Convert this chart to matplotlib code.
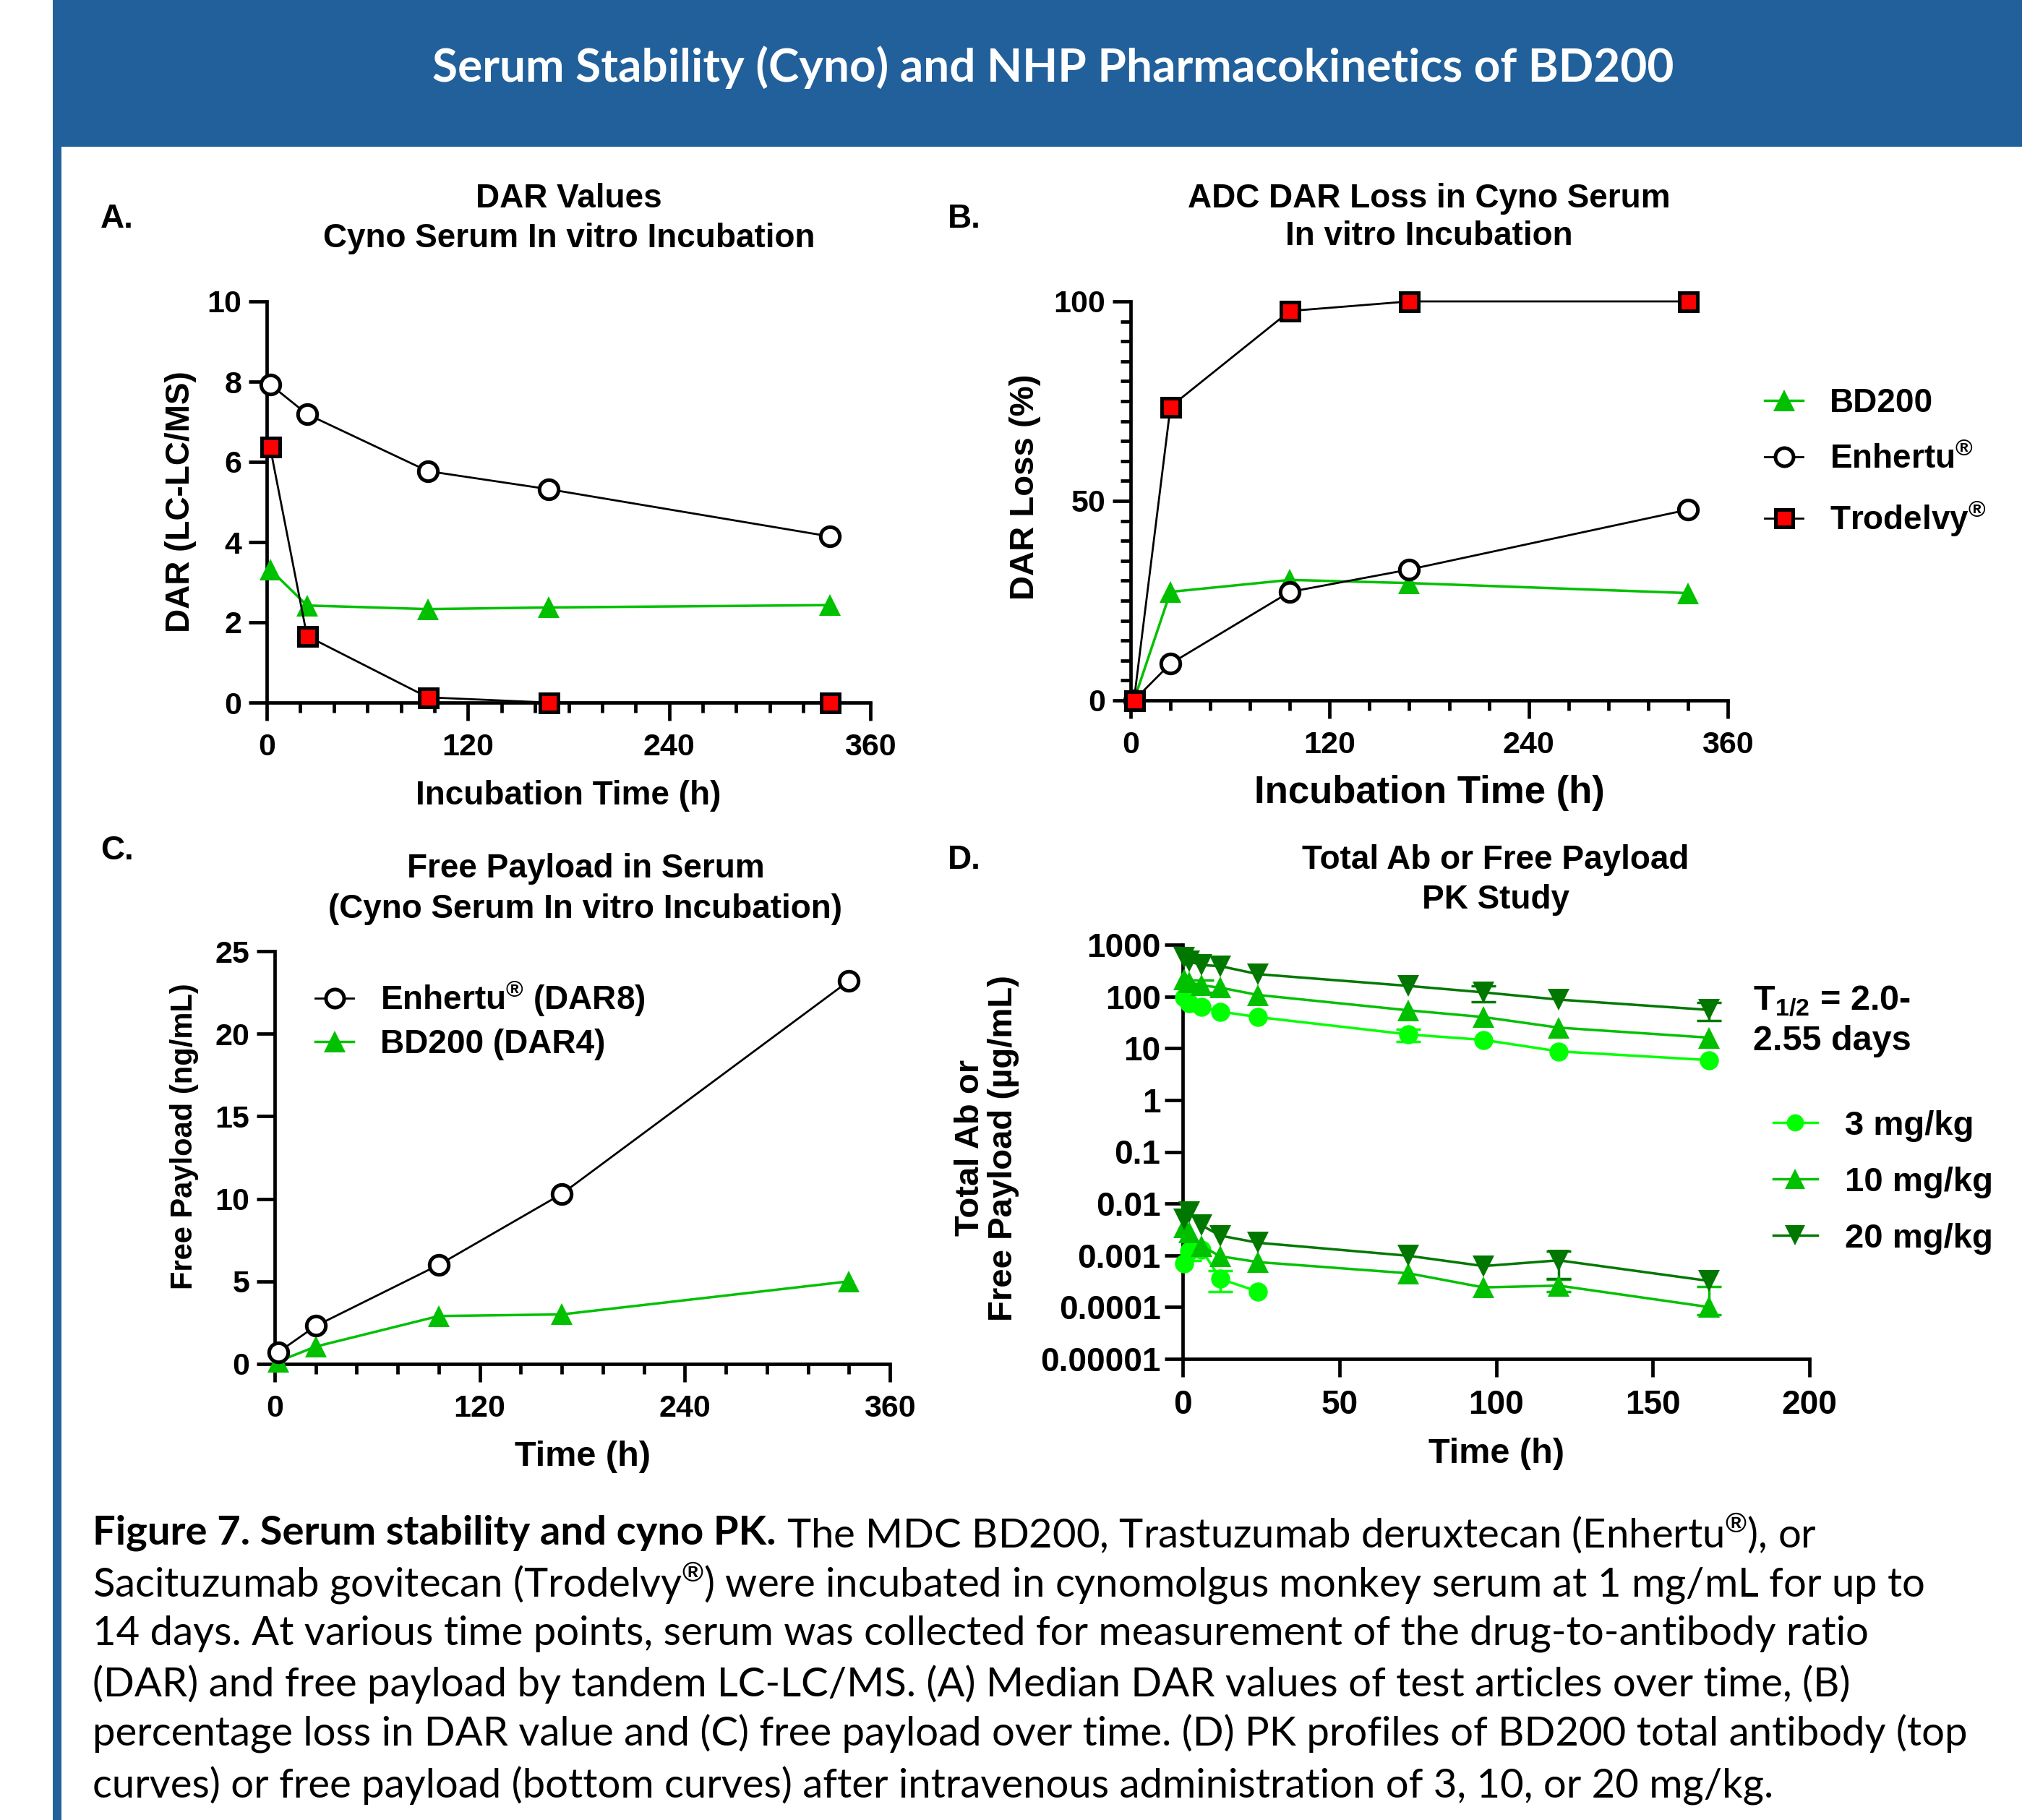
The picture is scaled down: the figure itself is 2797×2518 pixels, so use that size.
import numpy as np
import matplotlib
matplotlib.use("Agg")
import matplotlib.pyplot as plt
from matplotlib.patches import Rectangle
from matplotlib.ticker import MultipleLocator, FixedLocator, NullLocator

W, H = 2797, 2518
DPI = 100

# ---- data ----
hours_dar = [2, 24, 96, 168, 336]
dar_enhertu = [7.93, 7.19, 5.77, 5.32, 4.14]
dar_bd200 = [3.32, 2.42, 2.33, 2.37, 2.43]
dar_trodelvy = [6.37, 1.66, 0.13, 0.0, 0.0]

hours_loss = [2, 24, 96, 168, 336]
loss_bd200 = [0.0, 27.2, 30.2, 29.4, 26.9]
loss_enhertu = [0.0, 9.2, 27.2, 32.8, 47.8]
loss_trodelvy = [0.0, 73.6, 97.6, 100.0, 100.0]

hours_payload = [2, 24, 96, 168, 336]
payload_enhertu = [0.7, 2.3, 6.0, 10.3, 23.2]
payload_bd200 = [0.15, 1.05, 2.9, 3.0, 5.0]

pk_hours = [0.5, 2, 6, 12, 24, 72, 96, 120, 168]
ab_3 = [97, 74, 63, 51, 40, 18.5, 14.5, 8.7, 5.9]
ab_10 = [215, 190, 164, 148, 107, 54, 40, 25, 16]
ab_20 = [560, 475, 405, 385, 270, 160, 120, 87, 55]
# (lower, upper) error bar lengths, zero where no bar shows
ab_3_err = ([0, 0, 0, 0, 0, 5, 0, 0, 0], [0, 0, 0, 0, 0, 5, 0, 0, 0])
ab_10_err = ([0, 0, 44, 0, 0, 0, 0, 0, 0], [0, 0, 44, 0, 0, 0, 0, 0, 0])
ab_20_err = ([0, 0, 0, 0, 0, 0, 40, 0, 21], [0, 0, 0, 0, 0, 0, 40, 0, 21])

payload_hours_3 = [0.5, 2, 6, 12, 24]
pl_3 = [0.0007, 0.0012, 0.0013, 0.00035, 0.0002]
pl_3_err = ([0, 0.0004, 0, 0.00015, 0], [0, 0.0004, 0, 0.00015, 0])
pl_10 = [0.0035, 0.0028, 0.0015, 0.00096, 0.00074, 0.00045, 0.00024, 0.00026, 0.0001]
pl_10_err = ([0, 0, 0, 0, 0, 0, 0, 0.00006, 0.00003],
             [0, 0, 0, 0, 0, 0, 0, 0.00008, 0.00015])
pl_20 = [0.005, 0.0068, 0.0038, 0.0024, 0.00175, 0.00098, 0.00062, 0.0008, 0.00032]
pl_20_err = ([0, 0, 0, 0, 0, 0, 0, 0.00045, 0], [0, 0, 0, 0, 0, 0, 0, 0.0004, 0])

pk_yticks = [1e-5, 1e-4, 1e-3, 1e-2, 1e-1, 1, 10, 100, 1000]
pk_yticklabels = ["0.00001", "0.0001", "0.001", "0.01", "0.1", "1", "10", "100", "1000"]

CAPTION_BOLD = "Figure 7. Serum stability and cyno PK."
CAPTION_LINES = [
    r"The MDC BD200, Trastuzumab deruxtecan (Enhertu$^{\circledR}$), or",
    r"Sacituzumab govitecan (Trodelvy$^{\circledR}$) were incubated in cynomolgus monkey serum at 1 mg/mL for up to",
    "14 days. At various time points, serum was collected for measurement of the drug-to-antibody ratio",
    "(DAR) and free payload by tandem LC-LC/MS. (A) Median DAR values of test articles over time, (B)",
    "percentage loss in DAR value and (C) free payload over time. (D) PK profiles of BD200 total antibody (top",
    "curves) or free payload (bottom curves) after intravenous administration of 3, 10, or 20 mg/kg.",
]

# ---- style ----
plt.rcParams["font.family"] = ["Liberation Sans", "DejaVu Sans"]
plt.rcParams["font.weight"] = "bold"
plt.rcParams["mathtext.fontset"] = "custom"
plt.rcParams["mathtext.rm"] = "Liberation Sans"
plt.rcParams["mathtext.bf"] = "Liberation Sans:bold"

BLUE = "#21609b"
GREEN = "#00c000"
RED = "#ff0000"
G3, G10, G20 = "#00ff00", "#00c000", "#007800"
LW = 2.0
MS = 19
TITLE_FS = 33
TICK_FS = 31


def fx(x):
    return x / W


def fy(y):
    return 1 - y / H


def box(left, top, right, bottom):
    return [fx(left), fy(bottom), (right - left) / W, (bottom - top) / H]


def style_axes(ax, tick_size):
    for s in ("top", "right"):
        ax.spines[s].set_visible(False)
    for s in ("left", "bottom"):
        ax.spines[s].set_linewidth(3.4)
    ax.tick_params(which="major", direction="out", length=18, width=3.4,
                   labelsize=tick_size, pad=7)
    ax.tick_params(which="minor", direction="out", length=10, width=3.4)
    ax.tick_params(axis="x", which="major", pad=12)
    for lab in ax.get_xticklabels() + ax.get_yticklabels():
        lab.set_fontweight("bold")


def panel_title(x, y1, y2, l1, l2, letter, lx, ly):
    fig.text(fx(x), fy(y1), l1, ha="center", va="center", fontsize=TITLE_FS, fontweight="bold")
    fig.text(fx(x), fy(y2), l2, ha="center", va="center", fontsize=TITLE_FS, fontweight="bold")
    fig.text(fx(lx), fy(ly), letter, ha="left", va="center", fontsize=TITLE_FS, fontweight="bold")


def enhertu(ax, x, y, **kw):
    ax.plot(x, y, color="black", lw=LW, marker="o", ms=MS, mfc="white", mec="black",
            mew=3.6, clip_on=False, zorder=5, **kw)


def trodelvy(ax, x, y, **kw):
    ax.plot(x, y, color="black", lw=LW, marker="s", ms=MS - 1, mfc=RED, mec="black",
            mew=3.6, clip_on=False, zorder=6, **kw)


def bd200(ax, x, y, **kw):
    ax.plot(x, y, color=GREEN, lw=LW + 0.5, marker="^", ms=MS + 3, mfc=GREEN, mec=GREEN,
            mew=0, clip_on=False, zorder=4, **kw)


fig = plt.figure(figsize=(W / DPI, H / DPI), dpi=DPI)

# header band and left rule
fig.add_artist(Rectangle((fx(73), fy(203)), 1 - fx(73), 203 / H, transform=fig.transFigure,
                         facecolor=BLUE, edgecolor="none"))
fig.add_artist(Rectangle((fx(73), 0), 12 / W, fy(203), transform=fig.transFigure,
                         facecolor=BLUE, edgecolor="none"))
fig.text(fx(1457), fy(93), "Serum Stability (Cyno) and NHP Pharmacokinetics of BD200",
         ha="center", va="center", color="white", fontsize=46, fontweight="bold", family="Lato")

# ---- panel A ----
axA = fig.add_axes(box(369, 417, 1204, 972))
enhertu(axA, hours_dar, dar_enhertu)
bd200(axA, hours_dar, dar_bd200)
trodelvy(axA, hours_dar, dar_trodelvy)
axA.set_xlim(0, 360)
axA.set_ylim(0, 10)
axA.xaxis.set_major_locator(MultipleLocator(120))
axA.xaxis.set_minor_locator(MultipleLocator(20))
axA.yaxis.set_major_locator(MultipleLocator(2))
style_axes(axA, TICK_FS)
axA.set_xlabel("Incubation Time (h)", fontsize=33, fontweight="bold", va="center")
axA.xaxis.set_label_coords(0.5, (972 - 1101) / 555)
axA.set_ylabel("DAR (LC-LC/MS)", fontsize=33, fontweight="bold", va="center")
axA.yaxis.set_label_coords((250 - 369) / 835, (972 - 694) / 555)
panel_title(787, 275, 330, "DAR Values", "Cyno Serum In vitro Incubation", "A.", 139, 303)

# ---- panel B ----
axB = fig.add_axes(box(1564, 417, 2390, 969))
bd200(axB, hours_loss, loss_bd200, label="BD200")
enhertu(axB, hours_loss, loss_enhertu, label=r"Enhertu$^{\circledR}$")
trodelvy(axB, hours_loss, loss_trodelvy, label=r"Trodelvy$^{\circledR}$")
axB.set_xlim(0, 360)
axB.set_ylim(0, 100)
axB.xaxis.set_major_locator(MultipleLocator(120))
axB.xaxis.set_minor_locator(MultipleLocator(24))
axB.yaxis.set_major_locator(MultipleLocator(50))
axB.yaxis.set_minor_locator(MultipleLocator(5))
style_axes(axB, TICK_FS)
axB.set_xlabel("Incubation Time (h)", fontsize=38, fontweight="bold", va="center")
axB.xaxis.set_label_coords(0.5, (969 - 1097) / 552)
axB.set_ylabel("DAR Loss (%)", fontsize=34, fontweight="bold", va="center")
axB.yaxis.set_label_coords((1418 - 1564) / 826, (969 - 674) / 552)
axB.legend(loc="upper left", bbox_to_anchor=(fx(2400), fy(495)), bbox_transform=fig.transFigure,
           frameon=False, fontsize=33, handlelength=1.15, handletextpad=0.8, labelspacing=0.72,
           markerscale=0.95)
panel_title(1977, 275, 327, "ADC DAR Loss in Cyno Serum", "In vitro Incubation", "B.", 1311, 303)

# ---- panel C ----
axC = fig.add_axes(box(380, 1316, 1231, 1887))
enhertu(axC, hours_payload, payload_enhertu, label=r"Enhertu$^{\circledR}$ (DAR8)")
bd200(axC, hours_payload, payload_bd200, label="BD200 (DAR4)")
axC.set_xlim(0, 360)
axC.set_ylim(0, 25)
axC.xaxis.set_major_locator(MultipleLocator(120))
axC.xaxis.set_minor_locator(MultipleLocator(24))
axC.yaxis.set_major_locator(MultipleLocator(5))
style_axes(axC, TICK_FS)
axC.set_xlabel("Time (h)", fontsize=35, fontweight="bold", va="center")
axC.xaxis.set_label_coords(0.5, (1887 - 2016) / 571)
axC.set_ylabel("Free Payload (ng/mL)", fontsize=30, fontweight="bold", va="center")
axC.yaxis.set_label_coords((255 - 380) / 851, (1887 - 1572) / 571)
axC.legend(loc="upper left", bbox_to_anchor=(fx(395), fy(1313)), bbox_transform=fig.transFigure,
           frameon=False, fontsize=33, handlelength=1.15, handletextpad=0.8, labelspacing=0.3,
           markerscale=0.95)
panel_title(810, 1202, 1258, "Free Payload in Serum", "(Cyno Serum In vitro Incubation)", "C.", 139, 1177)

# ---- panel D ----
axD = fig.add_axes(box(1636, 1307, 2503, 1880))
series = [
    (pk_hours, ab_3, ab_3_err, G3, "o", "3 mg/kg"),
    (pk_hours, ab_10, ab_10_err, G10, "^", "10 mg/kg"),
    (pk_hours, ab_20, ab_20_err, G20, "v", "20 mg/kg"),
    (payload_hours_3, pl_3, pl_3_err, G3, "o", None),
    (pk_hours, pl_10, pl_10_err, G10, "^", None),
    (pk_hours, pl_20, pl_20_err, G20, "v", None),
]
for x, y, (lo, hi), c, m, lab in series:
    x, y, lo, hi = np.array(x), np.array(y), np.array(lo), np.array(hi)
    ax_ms = MS if m == "o" else MS + 3
    axD.plot(x, y, color=c, lw=LW + 0.5, marker=m, ms=ax_ms, mew=0, label=lab,
             clip_on=False, zorder=4)
    k = (lo > 0) | (hi > 0)
    if k.any():
        axD.errorbar(x[k], y[k], yerr=[lo[k], hi[k]], fmt="none", ecolor=c, elinewidth=2.5,
                     capsize=12, capthick=2.5, zorder=3)
axD.set_yscale("log")
axD.set_xlim(0, 200)
axD.set_ylim(1e-5, 1000)
axD.xaxis.set_major_locator(MultipleLocator(50))
axD.yaxis.set_major_locator(FixedLocator(pk_yticks))
axD.yaxis.set_minor_locator(NullLocator())
axD.set_yticks(pk_yticks, pk_yticklabels)
style_axes(axD, 33)
axD.tick_params(axis="y", which="major", pad=4)
axD.set_xlabel("Time (h)", fontsize=35, fontweight="bold", va="center")
axD.xaxis.set_label_coords(0.5, (1880 - 2012) / 573)
axD.set_ylabel("Total Ab or\nFree Payload (\u00b5g/mL)", fontsize=34, fontweight="bold",
               va="center", linespacing=1.05)
axD.yaxis.set_label_coords((1365 - 1636) / 867, (1880 - 1588) / 573)
axD.legend(loc="upper left", bbox_to_anchor=(fx(2410), fy(1493)), bbox_transform=fig.transFigure,
           frameon=False, fontsize=34, handlelength=1.3, handletextpad=0.8, labelspacing=0.72,
           markerscale=0.9)
fig.text(fx(2425), fy(1385), r"T$_{\mathbf{1/2}}$ = 2.0-", fontsize=35, fontweight="bold",
         ha="left", va="center")
fig.text(fx(2425), fy(1440), "2.55 days", fontsize=35, fontweight="bold", ha="left", va="center")
panel_title(2069, 1190, 1245, "Total Ab or Free Payload", "PK Study", "D.", 1311, 1190)

# ---- caption ----
CAP_FS = 40.5
cap_y = [2121, 2191, 2260, 2330, 2399, 2471]
renderer = fig.canvas.get_renderer()
t0 = fig.text(fx(128), fy(cap_y[0]), CAPTION_BOLD, fontsize=CAP_FS, fontweight="bold",
              family="Lato", ha="left", va="center")
bb = t0.get_window_extent(renderer)
fig.text((bb.x1 + 14) / W, fy(cap_y[0]), CAPTION_LINES[0], fontsize=CAP_FS, fontweight="normal",
         family="Lato", ha="left", va="center")
for line, y in zip(CAPTION_LINES[1:], cap_y[1:]):
    fig.text(fx(128), fy(y), line, fontsize=CAP_FS, fontweight="normal", family="Lato",
             ha="left", va="center")

fig.savefig("out.png", dpi=DPI)
